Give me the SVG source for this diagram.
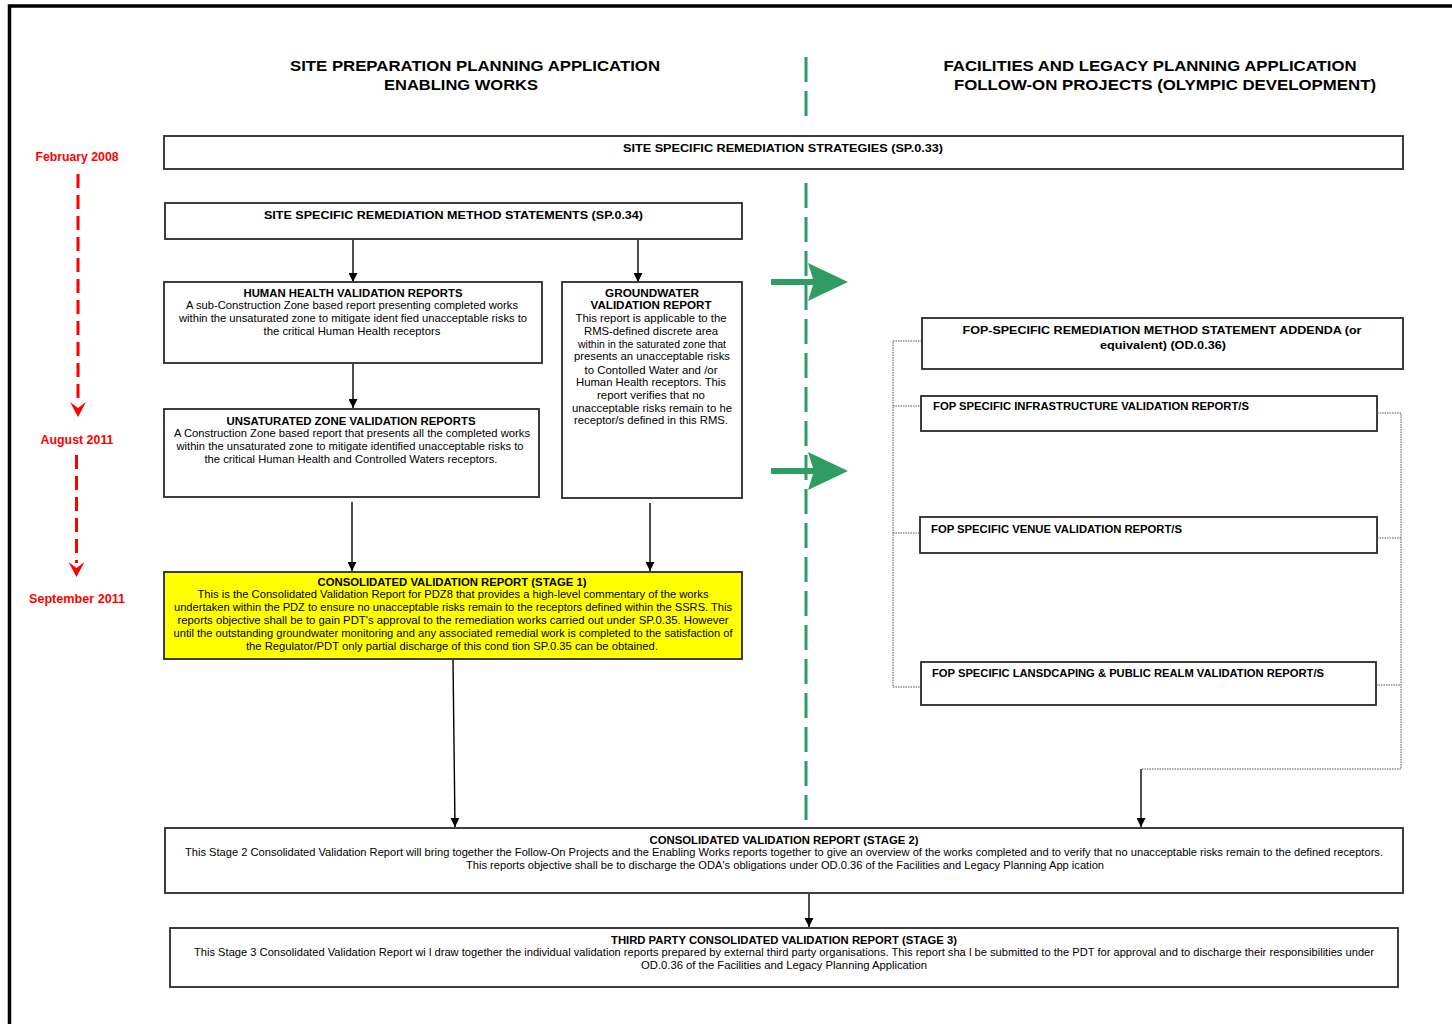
<svg xmlns="http://www.w3.org/2000/svg" width="1452" height="1024" viewBox="0 0 1452 1024">
<defs>
<style>
.box{fill:#fff;stroke:#2a2a2a;stroke-width:1.8}
.yel{fill:#ffff00;stroke:#2a2a2a;stroke-width:1.8}
.t{font-family:"Liberation Sans",Arial,sans-serif;font-size:11px;fill:#000}
.b{font-weight:bold}
.c{text-anchor:middle}
.h{font-family:"Liberation Sans",Arial,sans-serif;font-size:15px;font-weight:bold;fill:#000;text-anchor:middle}
.red{font-family:"Liberation Sans",Arial,sans-serif;font-size:12px;font-weight:bold;fill:#ff0000;text-anchor:middle}
.arr{stroke:#000;stroke-width:1.4;fill:none;marker-end:url(#ah)}
.dot{stroke:#555;stroke-width:1;fill:none;stroke-dasharray:1.5 1}
.grn{stroke:#2e9c63;stroke-width:3;fill:none;stroke-dasharray:25 9}
.rd{stroke:#ff0000;stroke-width:3;fill:none;stroke-dasharray:14 7}
</style>
<marker id="ah" markerUnits="userSpaceOnUse" markerWidth="9" markerHeight="9" refX="9" refY="4.5" orient="auto">
<path d="M0,0 L9,4.5 L0,9 Z" fill="#000"/>
</marker>
</defs>
<rect x="0" y="0" width="1452" height="1024" fill="#fff"/>
<rect x="9.5" y="6" width="1460" height="1040" fill="none" stroke="#000" stroke-width="3.5"/>

<g id="headers">
<text class="h" x="475" y="71" textLength="370" lengthAdjust="spacingAndGlyphs">SITE PREPARATION PLANNING APPLICATION</text>
<text class="h" x="461" y="90" textLength="154" lengthAdjust="spacingAndGlyphs">ENABLING WORKS</text>
<text class="h" x="1150" y="71" textLength="413" lengthAdjust="spacingAndGlyphs">FACILITIES AND LEGACY PLANNING APPLICATION</text>
<text class="h" x="1165" y="90" textLength="422" lengthAdjust="spacingAndGlyphs">FOLLOW-ON PROJECTS (OLYMPIC DEVELOPMENT)</text>
</g>

<g id="timeline">
<text class="red" x="77" y="161" textLength="83" lengthAdjust="spacingAndGlyphs">February 2008</text>
<line class="rd" x1="78" y1="174" x2="78" y2="404"/>
<path d="M70,402 L78,417 L86,402 L78,408 Z" fill="#ff0000"/>
<text class="red" x="77" y="444" textLength="73" lengthAdjust="spacingAndGlyphs">August 2011</text>
<line class="rd" x1="76.5" y1="455" x2="76.5" y2="563"/>
<path d="M68.5,562 L76.5,577 L84.5,562 L76.5,568 Z" fill="#ff0000"/>
<text class="red" x="77" y="603" textLength="96" lengthAdjust="spacingAndGlyphs">September 2011</text>
</g>

<g id="divider">
<line class="grn" x1="806" y1="57" x2="806" y2="116"/>
<line class="grn" x1="806" y1="183" x2="806" y2="822"/>
<path d="M771,279 L813,279 L808,263 L848,282 L808,301 L813,285 L771,285 Z" fill="#2e9c63"/>
<path d="M771,468 L813,468 L808,452 L848,471 L808,490 L813,474 L771,474 Z" fill="#2e9c63"/>
</g>

<g id="connectors">
<line class="arr" x1="353" y1="240" x2="353" y2="282"/>
<line class="arr" x1="638" y1="240" x2="638" y2="282"/>
<line class="arr" x1="353" y1="364" x2="353" y2="408"/>
<line class="arr" x1="352" y1="502" x2="352" y2="571"/>
<line class="arr" x1="650" y1="503" x2="650" y2="571"/>
<line class="arr" x1="453" y1="660" x2="455" y2="827"/>
<line class="arr" x1="809" y1="894" x2="809" y2="927"/>
<path class="dot" d="M922,341 H893 V687 H921 M893,406 H921 M893,533 H920"/>
<path class="dot" d="M1377,413 H1401 V769 H1141 M1377,538 H1401 M1376,685 H1401"/>
<line class="arr" x1="1141" y1="769" x2="1141" y2="827"/>
</g>

<g id="strategies">
<rect class="box" x="164" y="136" width="1239" height="33"/>
<text class="t b" x="623" y="152" textLength="320" lengthAdjust="spacingAndGlyphs">SITE SPECIFIC REMEDIATION STRATEGIES  (SP.0.33)</text>
</g>

<g id="method-statements">
<rect class="box" x="165" y="203" width="577" height="36"/>
<text class="t b" x="264" y="219" textLength="379" lengthAdjust="spacingAndGlyphs">SITE SPECIFIC REMEDIATION METHOD STATEMENTS  (SP.0.34)</text>
</g>

<g id="human-health">
<rect class="box" x="164" y="282" width="378" height="81"/>
<text class="t b c" x="353" y="297" textLength="219" lengthAdjust="spacingAndGlyphs">HUMAN HEALTH VALIDATION REPORTS</text>
<text class="t c" x="352" y="309" textLength="332" lengthAdjust="spacingAndGlyphs">A sub-Construction Zone based report presenting completed works</text>
<text class="t c" x="353" y="322" textLength="348" lengthAdjust="spacingAndGlyphs">within the unsaturated zone to mitigate ident fied unacceptable risks to</text>
<text class="t c" x="352" y="335" textLength="177" lengthAdjust="spacingAndGlyphs">the critical Human Health receptors</text>
</g>

<g id="unsaturated">
<rect class="box" x="164" y="409" width="375" height="88"/>
<text class="t b c" x="351" y="425" textLength="249" lengthAdjust="spacingAndGlyphs">UNSATURATED ZONE VALIDATION REPORTS</text>
<text class="t c" x="352" y="437" textLength="356" lengthAdjust="spacingAndGlyphs">A Construction Zone based report that presents all the completed works</text>
<text class="t c" x="350" y="450" textLength="347" lengthAdjust="spacingAndGlyphs">within the unsaturated zone to mitigate identified unacceptable risks to</text>
<text class="t c" x="351" y="463" textLength="293" lengthAdjust="spacingAndGlyphs">the critical Human Health and Controlled Waters receptors.</text>
</g>

<g id="groundwater">
<rect class="box" x="562" y="282" width="180" height="216"/>
<text class="t b c" x="652" y="297" textLength="94" lengthAdjust="spacingAndGlyphs">GROUNDWATER</text>
<text class="t b c" x="651" y="309" textLength="121" lengthAdjust="spacingAndGlyphs">VALIDATION REPORT</text>
<text class="t c" x="651" y="322" textLength="151" lengthAdjust="spacingAndGlyphs">This report is applicable to the</text>
<text class="t c" x="651" y="335" textLength="134" lengthAdjust="spacingAndGlyphs">RMS-defined discrete area</text>
<text class="t c" x="652" y="348" textLength="148" lengthAdjust="spacingAndGlyphs">within in the saturated zone that</text>
<text class="t c" x="652" y="360" textLength="156" lengthAdjust="spacingAndGlyphs">presents an unacceptable risks</text>
<text class="t c" x="651" y="374" textLength="133" lengthAdjust="spacingAndGlyphs">to Contolled Water and /or</text>
<text class="t c" x="651" y="386" textLength="150" lengthAdjust="spacingAndGlyphs">Human Health receptors. This</text>
<text class="t c" x="651" y="399" textLength="108" lengthAdjust="spacingAndGlyphs">report verifies that no</text>
<text class="t c" x="652" y="412" textLength="160" lengthAdjust="spacingAndGlyphs">unacceptable risks remain to  he</text>
<text class="t c" x="651" y="424" textLength="154" lengthAdjust="spacingAndGlyphs">receptor/s defined in this RMS.</text>
</g>

<g id="stage1">
<rect class="yel" x="164" y="572" width="578" height="87"/>
<text class="t b c" x="452" y="586" textLength="269" lengthAdjust="spacingAndGlyphs">CONSOLIDATED VALIDATION REPORT (STAGE 1)</text>
<text class="t c" x="453" y="598" textLength="511" lengthAdjust="spacingAndGlyphs">This is the Consolidated Validation Report for PDZ8 that provides a high-level commentary of the works</text>
<text class="t c" x="453" y="611" textLength="558" lengthAdjust="spacingAndGlyphs">undertaken within the PDZ to ensure no unacceptable risks remain to the receptors defined within the SSRS. This</text>
<text class="t c" x="453" y="624" textLength="551" lengthAdjust="spacingAndGlyphs">reports objective shall be to gain PDT's approval  to the remediation works carried out under SP.0.35.  However</text>
<text class="t c" x="453" y="637" textLength="559" lengthAdjust="spacingAndGlyphs">until the outstanding groundwater monitoring and any associated remedial work is completed to the satisfaction of</text>
<text class="t c" x="452" y="650" textLength="412" lengthAdjust="spacingAndGlyphs">the Regulator/PDT only partial discharge of this cond tion SP.0.35  can be obtained.</text>
</g>

<g id="fop-addenda">
<rect class="box" x="922" y="318" width="481" height="51"/>
<text class="t b c" x="1162" y="334" textLength="399" lengthAdjust="spacingAndGlyphs">FOP-SPECIFIC REMEDIATION  METHOD STATEMENT  ADDENDA (or</text>
<text class="t b c" x="1163" y="349" textLength="126" lengthAdjust="spacingAndGlyphs">equivalent)  (OD.0.36)</text>
</g>

<g id="fop-infrastructure">
<rect class="box" x="921" y="396" width="456" height="35"/>
<text class="t b" x="933" y="410" textLength="316" lengthAdjust="spacingAndGlyphs">FOP SPECIFIC INFRASTRUCTURE VALIDATION REPORT/S</text>
</g>

<g id="fop-venue">
<rect class="box" x="920" y="517" width="457" height="36"/>
<text class="t b" x="931" y="533" textLength="251" lengthAdjust="spacingAndGlyphs">FOP SPECIFIC VENUE VALIDATION REPORT/S</text>
</g>

<g id="fop-landscaping">
<rect class="box" x="921" y="662" width="455" height="43"/>
<text class="t b" x="932" y="677" textLength="392" lengthAdjust="spacingAndGlyphs">FOP SPECIFIC LANSDCAPING &amp; PUBLIC REALM VALIDATION REPORT/S</text>
</g>

<g id="stage2">
<rect class="box" x="165" y="828" width="1238" height="65"/>
<text class="t b c" x="784" y="844" textLength="269" lengthAdjust="spacingAndGlyphs">CONSOLIDATED VALIDATION REPORT (STAGE 2)</text>
<text class="t c" x="784" y="856" textLength="1198" lengthAdjust="spacingAndGlyphs">This Stage 2 Consolidated Validation Report will bring together the Follow-On Projects and the Enabling Works reports together to give an overview of the works completed and to verify that no unacceptable risks remain to the defined receptors.</text>
<text class="t c" x="785" y="869" textLength="638" lengthAdjust="spacingAndGlyphs">This reports objective shall be to discharge the ODA's obligations under OD.0.36 of the Facilities and Legacy Planning App ication</text>
</g>

<g id="stage3">
<rect class="box" x="170" y="928" width="1228" height="59"/>
<text class="t b c" x="784" y="944" textLength="346" lengthAdjust="spacingAndGlyphs">THIRD PARTY CONSOLIDATED VALIDATION REPORT (STAGE 3)</text>
<text class="t c" x="784" y="956" textLength="1180" lengthAdjust="spacingAndGlyphs">This Stage 3 Consolidated Validation Report wi l draw together the individual validation reports prepared by external third party organisations. This report sha l be submitted to the PDT for approval and to  discharge their responsibilities under</text>
<text class="t c" x="784" y="969" textLength="286" lengthAdjust="spacingAndGlyphs">OD.0.36 of the Facilities and Legacy Planning Application</text>
</g>
</svg>
